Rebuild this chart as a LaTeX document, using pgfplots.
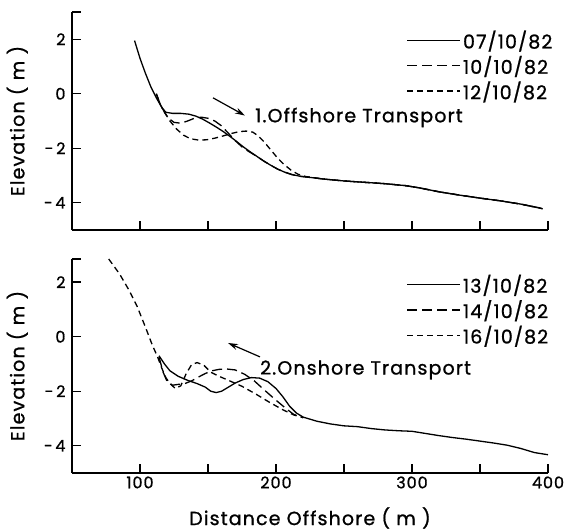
\documentclass[border=0pt]{standalone}
\usepackage{pgfplots}
\pgfplotsset{compat=1.18}
\usepackage{fontspec}
\setmainfont{Poppins}[LetterSpace=6, FakeBold=1]
\usetikzlibrary{arrows.meta}

\pgfplotstableread{
x y
96 1.95
100 1.3
104 0.75
108 0.25
112 -0.15
116 -0.5
119 -0.68
124 -0.72
130 -0.72
136 -0.75
141 -0.82
146 -0.93
151 -1.07
156 -1.22
161 -1.38
166 -1.56
171 -1.75
176 -1.95
181 -2.13
186 -2.3
191 -2.47
196 -2.62
201 -2.76
206 -2.87
212 -2.97
218 -3.03
225 -3.07
235 -3.13
250 -3.2
265 -3.25
280 -3.3
295 -3.37
305 -3.45
320 -3.6
335 -3.72
350 -3.83
365 -3.93
380 -4.05
395 -4.2
}\tA

\pgfplotstableread{
x y
112 0.0
115 -0.4
118 -0.68
121 -0.9
125 -1.05
130 -1.08
135 -1.0
140 -0.9
145 -0.86
150 -0.9
155 -1.0
160 -1.18
165 -1.45
170 -1.72
175 -1.95
180 -2.12
186 -2.3
191 -2.47
196 -2.62
201 -2.76
206 -2.87
212 -2.97
218 -3.03
225 -3.07
235 -3.13
250 -3.2
265 -3.25
280 -3.3
295 -3.37
305 -3.45
320 -3.6
335 -3.72
350 -3.83
365 -3.93
380 -4.05
396 -4.22
}\tB

\pgfplotstableread{
x y
112 0.0
115 -0.4
118 -0.68
122 -1.0
127 -1.3
132 -1.52
137 -1.65
143 -1.7
149 -1.69
155 -1.63
161 -1.55
167 -1.46
173 -1.39
178 -1.37
183 -1.41
187 -1.55
191 -1.75
196 -2.05
201 -2.35
206 -2.6
211 -2.8
216 -2.95
222 -3.04
228 -3.08
235 -3.13
250 -3.2
265 -3.25
280 -3.3
295 -3.37
305 -3.45
320 -3.6
335 -3.72
350 -3.83
365 -3.93
380 -4.05
396 -4.22
}\tC

\pgfplotstableread{
x y
114 -0.7
118 -1.0
122 -1.25
128 -1.45
135 -1.6
142 -1.72
148 -1.85
152 -2.0
156 -2.05
160 -2.0
165 -1.85
170 -1.7
176 -1.57
182 -1.5
188 -1.52
194 -1.65
200 -1.9
205 -2.2
210 -2.55
215 -2.8
220 -2.95
230 -3.1
240 -3.2
250 -3.27
260 -3.3
270 -3.37
280 -3.42
290 -3.45
300 -3.47
310 -3.55
320 -3.63
330 -3.7
340 -3.76
350 -3.83
360 -3.9
370 -3.98
380 -4.1
390 -4.25
400 -4.33
}\tD

\pgfplotstableread{
x y
114 -0.75
117 -1.3
120 -1.65
124 -1.78
128 -1.75
133 -1.72
138 -1.62
143 -1.48
148 -1.35
153 -1.25
158 -1.2
163 -1.18
170 -1.22
177 -1.38
184 -1.62
192 -1.98
200 -2.33
207 -2.62
213 -2.85
220 -2.97
}\tE

\pgfplotstableread{
x y
77 2.85
85 2.3
92 1.7
98 1.1
104 0.35
109 -0.3
113 -0.75
116 -1.15
119 -1.5
122 -1.72
126 -1.9
130 -1.8
134 -1.35
138 -1.02
142 -0.95
147 -1.05
152 -1.3
158 -1.45
165 -1.6
175 -1.82
185 -2.1
195 -2.4
205 -2.68
213 -2.87
220 -2.97
}\tF

\pgfplotsset{
  myax/.style={
    scale only axis, width=476pt,
    xmin=50, xmax=400, ymin=-5,
    axis x line=bottom, axis y line=left,
    axis line style={line width=1.8pt, -},
    xtick align=inside, ytick align=inside,
    tickwidth=9pt,
    xtick style={draw=black, line width=1.4pt},
    ytick style={draw=black, line width=1.4pt},
    tick label style={font=\fontsize{16}{18}\selectfont},
    yticklabel style={xshift=-3pt},
    every axis y label/.style={at={(axis description cs:-0.115,0.5)},rotate=90,anchor=center,font=\fontsize{19}{21}\selectfont},
    every axis x label/.style={at={(axis description cs:0.5,-0.21)},anchor=center,font=\fontsize{19}{21}\selectfont},
    legend cell align=left,
    legend style={draw=none, fill=none, font=\fontsize{19}{21}\selectfont, row sep=2pt, inner sep=0pt},
    legend image code/.code={\draw[##1] (0pt,0pt) -- (53pt,0pt);},
  },
}
\tikzset{
  sA/.style={black, line width=1.3pt, solid},
  sB/.style={black, line width=1.3pt, dash pattern=on 10pt off 5pt},
  sC/.style={black, line width=1.3pt, dash pattern=on 6pt off 4pt},
  tk/.style={black, line width=1.4pt},
}

\begin{document}
\begin{tikzpicture}
\useasboundingbox (0pt,0pt) rectangle (565pt,-532pt);
\begin{axis}[
  myax,
  at={(72pt,-230pt)}, anchor=south west,
  height=218pt, ymax=3,
  ytick={-4,-2,0,2,3}, yticklabels={{-\,4},{-\,2},0,2,{}},
  xtick={100,150,200,250,300,350,400},
  xticklabels={},
  ylabel={Elevation ( m )},
  legend style={at={(axis cs:296,2.4)}, anchor=north west},
]
\addplot[sA] table {\tA};
\addlegendentry{07/10/82}
\addplot[sB] table {\tB};
\addlegendentry{10/10/82}
\addplot[sC] table {\tC};
\addlegendentry{12/10/82}
\pgfplotsinvokeforeach{100,150,200,250,300,350,400}{\draw[tk] (axis cs:#1,-5) -- ++(0pt,9pt);}
\pgfplotsinvokeforeach{-4,-2,0,2,3}{\draw[tk] (axis cs:50,#1) -- ++(9pt,0pt);}
\draw[line width=1.2pt, -{Stealth[length=10pt,width=6pt]}] (axis cs:153.7,-0.15) -- (axis cs:177.2,-0.8);
\node[anchor=west, inner sep=0pt, font=\fontsize{19}{21}\selectfont] at (axis cs:184.6,-0.87) {1.Offshore Transport};
\end{axis}

\begin{axis}[
  myax,
  at={(72pt,-473pt)}, anchor=south west,
  height=214pt, ymax=2.85,
  ytick={-4,-2,0,2,2.85}, yticklabels={{-\,4},{-\,2},0,2,{}},
  xtick={100,150,200,250,300,350,400},
  xticklabels={100,,200,,300,,400},
  xlabel={Distance Offshore ( m )},
  ylabel={Elevation ( m )},
  legend style={at={(axis cs:296,2.35)}, anchor=north west},
]
\addplot[sA] table {\tD};
\addlegendentry{13/10/82}
\addplot[sB] table {\tE};
\addlegendentry{14/10/82}
\addplot[sC] table {\tF};
\addlegendentry{16/10/82}
\pgfplotsinvokeforeach{100,150,200,250,300,350,400}{\draw[tk] (axis cs:#1,-5) -- ++(0pt,9pt);}
\pgfplotsinvokeforeach{-4,-2,0,2,2.85}{\draw[tk] (axis cs:50,#1) -- ++(9pt,0pt);}
\draw[line width=1.2pt, -{Stealth[length=10pt,width=6pt]}] (axis cs:188.2,-0.74) -- (axis cs:164.7,-0.23);
\node[anchor=west, inner sep=0pt, font=\fontsize{19}{21}\selectfont] at (axis cs:188.2,-1.22) {2.Onshore Transport};
\end{axis}
\end{tikzpicture}
\end{document}
